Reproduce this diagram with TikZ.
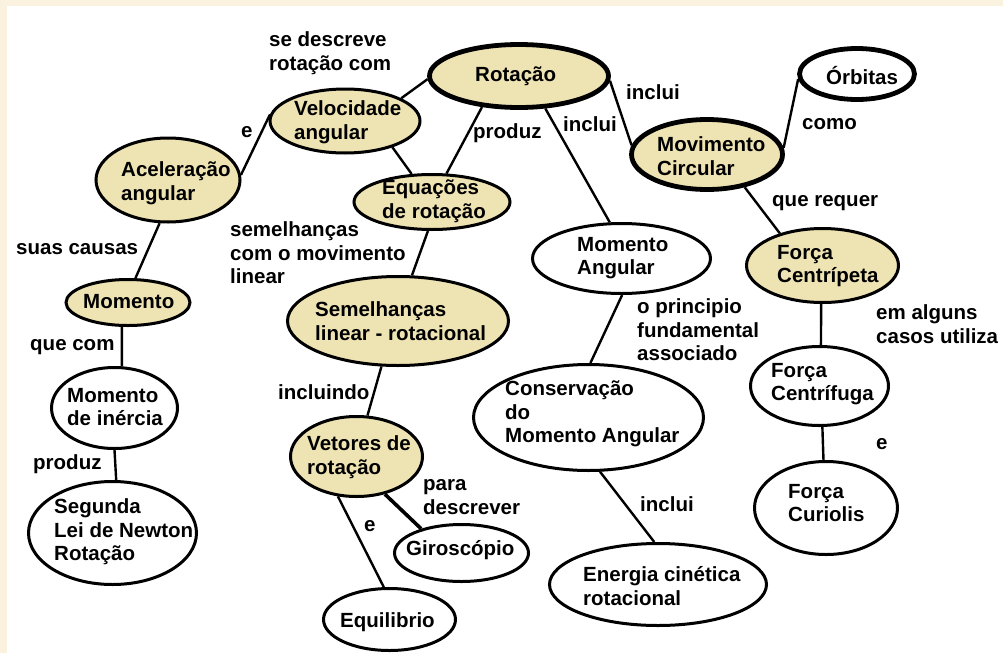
\documentclass[tikz,border=0pt]{standalone}
\usepackage{fontspec}
\setmainfont{Liberation Sans}
\usetikzlibrary{shapes.geometric}
\definecolor{tanfill}{RGB}{238,227,178}
\definecolor{cream}{RGB}{250,241,222}
\begin{document}
\begin{tikzpicture}[x=1pt,y=-1pt,
  concept/.style={ellipse, draw=black, line width=3pt, inner sep=0pt, fill=white},
  tan/.style={fill=tanfill},
  heavy/.style={line width=4.8pt},
  txt/.style={anchor=west, inner sep=0pt, align=left, font=\bfseries\fontsize{20.5}{23.5}\selectfont},
  link/.style={line width=2.4pt},
  boldlink/.style={line width=3.6pt},
]
\useasboundingbox (0,0) rectangle (1003,653);
\fill[cream] (0,0) rectangle (1003,653);
\fill[white] (7,6) rectangle (1003,653);

% concept ellipses
\node[concept, tan, heavy, minimum width=179, minimum height=63] (rot) at (519,76) {};
\node[concept, tan, minimum width=150, minimum height=64] (vel) at (345,121) {};
\node[concept, tan, minimum width=144, minimum height=84] (acel) at (168,180) {};
\node[concept, tan, minimum width=156, minimum height=55] (equ) at (432,202) {};
\node[concept, tan, minimum width=124, minimum height=46] (mom) at (128,302.5) {};
\node[concept, tan, minimum width=221, minimum height=89] (sem) at (398,321) {};
\node[concept, minimum width=178, minimum height=70] (mang) at (621.5,258.5) {};
\node[concept, tan, heavy, minimum width=151, minimum height=70] (movc) at (707,154.5) {};
\node[concept, heavy, minimum width=115, minimum height=51] (orb) at (857,74) {};
\node[concept, tan, minimum width=152, minimum height=74] (fcp) at (822.5,265.5) {};
\node[concept, minimum width=126, minimum height=81] (minr) at (114.5,408) {};
\node[concept, minimum width=168, minimum height=103] (seg) at (112.5,533) {};
\node[concept, tan, minimum width=132, minimum height=80] (vet) at (356.5,456.5) {};
\node[concept, minimum width=134, minimum height=57] (giro) at (461.5,553) {};
\node[concept, minimum width=132, minimum height=62] (equi) at (389.5,619.5) {};
\node[concept, minimum width=230, minimum height=106] (cons) at (588.5,417.5) {};
\node[concept, minimum width=217, minimum height=82] (ener) at (658,584.5) {};
\node[concept, minimum width=138, minimum height=79] (fcf) at (819.5,386) {};
\node[concept, minimum width=143, minimum height=93] (fcu) at (826,508) {};

% concept texts
\node[txt] (rot-t) at (475,76) {Rotação};
\node[txt] (vel-t) at (294,122) {Velocidade\\angular};
\node[txt] (acel-t) at (121,183) {Aceleração\\angular};
\node[txt] (equ-t) at (382,201) {Equações\\de rotação};
\node[txt] (mom-t) at (83,302) {Momento};
\node[txt] (sem-t) at (315,321) {Semelhanças\\linear - rotacional};
\node[txt] (mang-t) at (577,258) {Momento\\Angular};
\node[txt] (movc-t) at (657,156) {Movimento\\Circular};
\node[txt] (orb-t) at (826,76) {Órbitas};
\node[txt] (fcp-t) at (777,266) {Força\\Centrípeta};
\node[txt] (minr-t) at (67,407) {Momento\\de inércia};
\node[txt] (seg-t) at (54,532) {Segunda\\Lei de Newton\\Rotação};
\node[txt] (vet-t) at (307,457) {Vetores de\\rotação};
\node[txt] (giro-t) at (406,550) {Giroscópio};
\node[txt] (equi-t) at (340,622) {Equilibrio};
\node[txt] (cons-t) at (505,414) {Conservação\\do\\Momento Angular};
\node[txt] (ener-t) at (583,586) {Energia cinética\\rotacional};
\node[txt] (fcf-t) at (771,384) {Força\\Centrífuga};
\node[txt] (fcu-t) at (788,503) {Força\\Curiolis};

% connectors
\draw[link] (rot.182) -- (vel.22);
\draw[link] (vel.175.5) -- (acel.4);
\draw[link] (vel.331.6) -- (equ.126.6);
\draw[link] (rot.220.4) -- (equ.63.4);
\draw[link] (rot.309.5) -- (mang.108.9);
\draw[link] (rot.357.5) -- (movc.173);
\draw[link] (movc.5) -- (orb.185.7);
\draw[link] (movc.319.6) -- (fcp.143);
\draw[link] (fcp.268.5) -- (fcf.88.6);
\draw[link] (fcf.274.2) -- (fcu.93.6);
\draw[link] (mang.271.5) -- (cons.88);
\draw[link] (cons.282.5) -- (ener.95.4);
\draw[link] (acel.259.7) -- (mom.73.7);
\draw[link] (mom.256) -- (minr.80.5);
\draw[link] (minr.270) -- (seg.86.8);
\draw[link] (equ.262.4) -- (sem.73);
\draw[link] (sem.250.8) -- (vet.75);
\draw[boldlink] (vet.307) -- (giro.149.8);
\draw[link] (vet.245.7) -- (equi.100.3);

% link labels
\node[txt] (l-desc) at (269,53) {se descreve\\rotação com};
\node[txt] (l-e1) at (241,132) {e};
\node[txt] (l-prod1) at (473,133) {produz};
\node[txt] (l-incl1) at (563,124) {inclui};
\node[txt] (l-incl2) at (626,92) {inclui};
\node[txt] (l-como) at (802,124) {como};
\node[txt] (l-req) at (772,203) {que requer};
\node[txt] (l-alg) at (876,324) {em alguns\\casos utiliza};
\node[txt] (l-princ) at (637,330) {o principio\\fundamental\\associado};
\node[txt] (l-incl3) at (640,504) {inclui};
\node[txt] (l-e2) at (876,444) {e};
\node[txt] (l-causas) at (16,249) {suas causas};
\node[txt] (l-semel) at (230,253) {semelhanças\\com o movimento\\linear};
\node[txt] (l-qcom) at (30,347) {que com};
\node[txt] (l-prod2) at (33,464) {produz};
\node[txt] (l-incluindo) at (278,392) {incluindo};
\node[txt] (l-para) at (423,497) {para\\descrever};
\node[txt] (l-e3) at (364,526) {e};
\end{tikzpicture}
\end{document}
